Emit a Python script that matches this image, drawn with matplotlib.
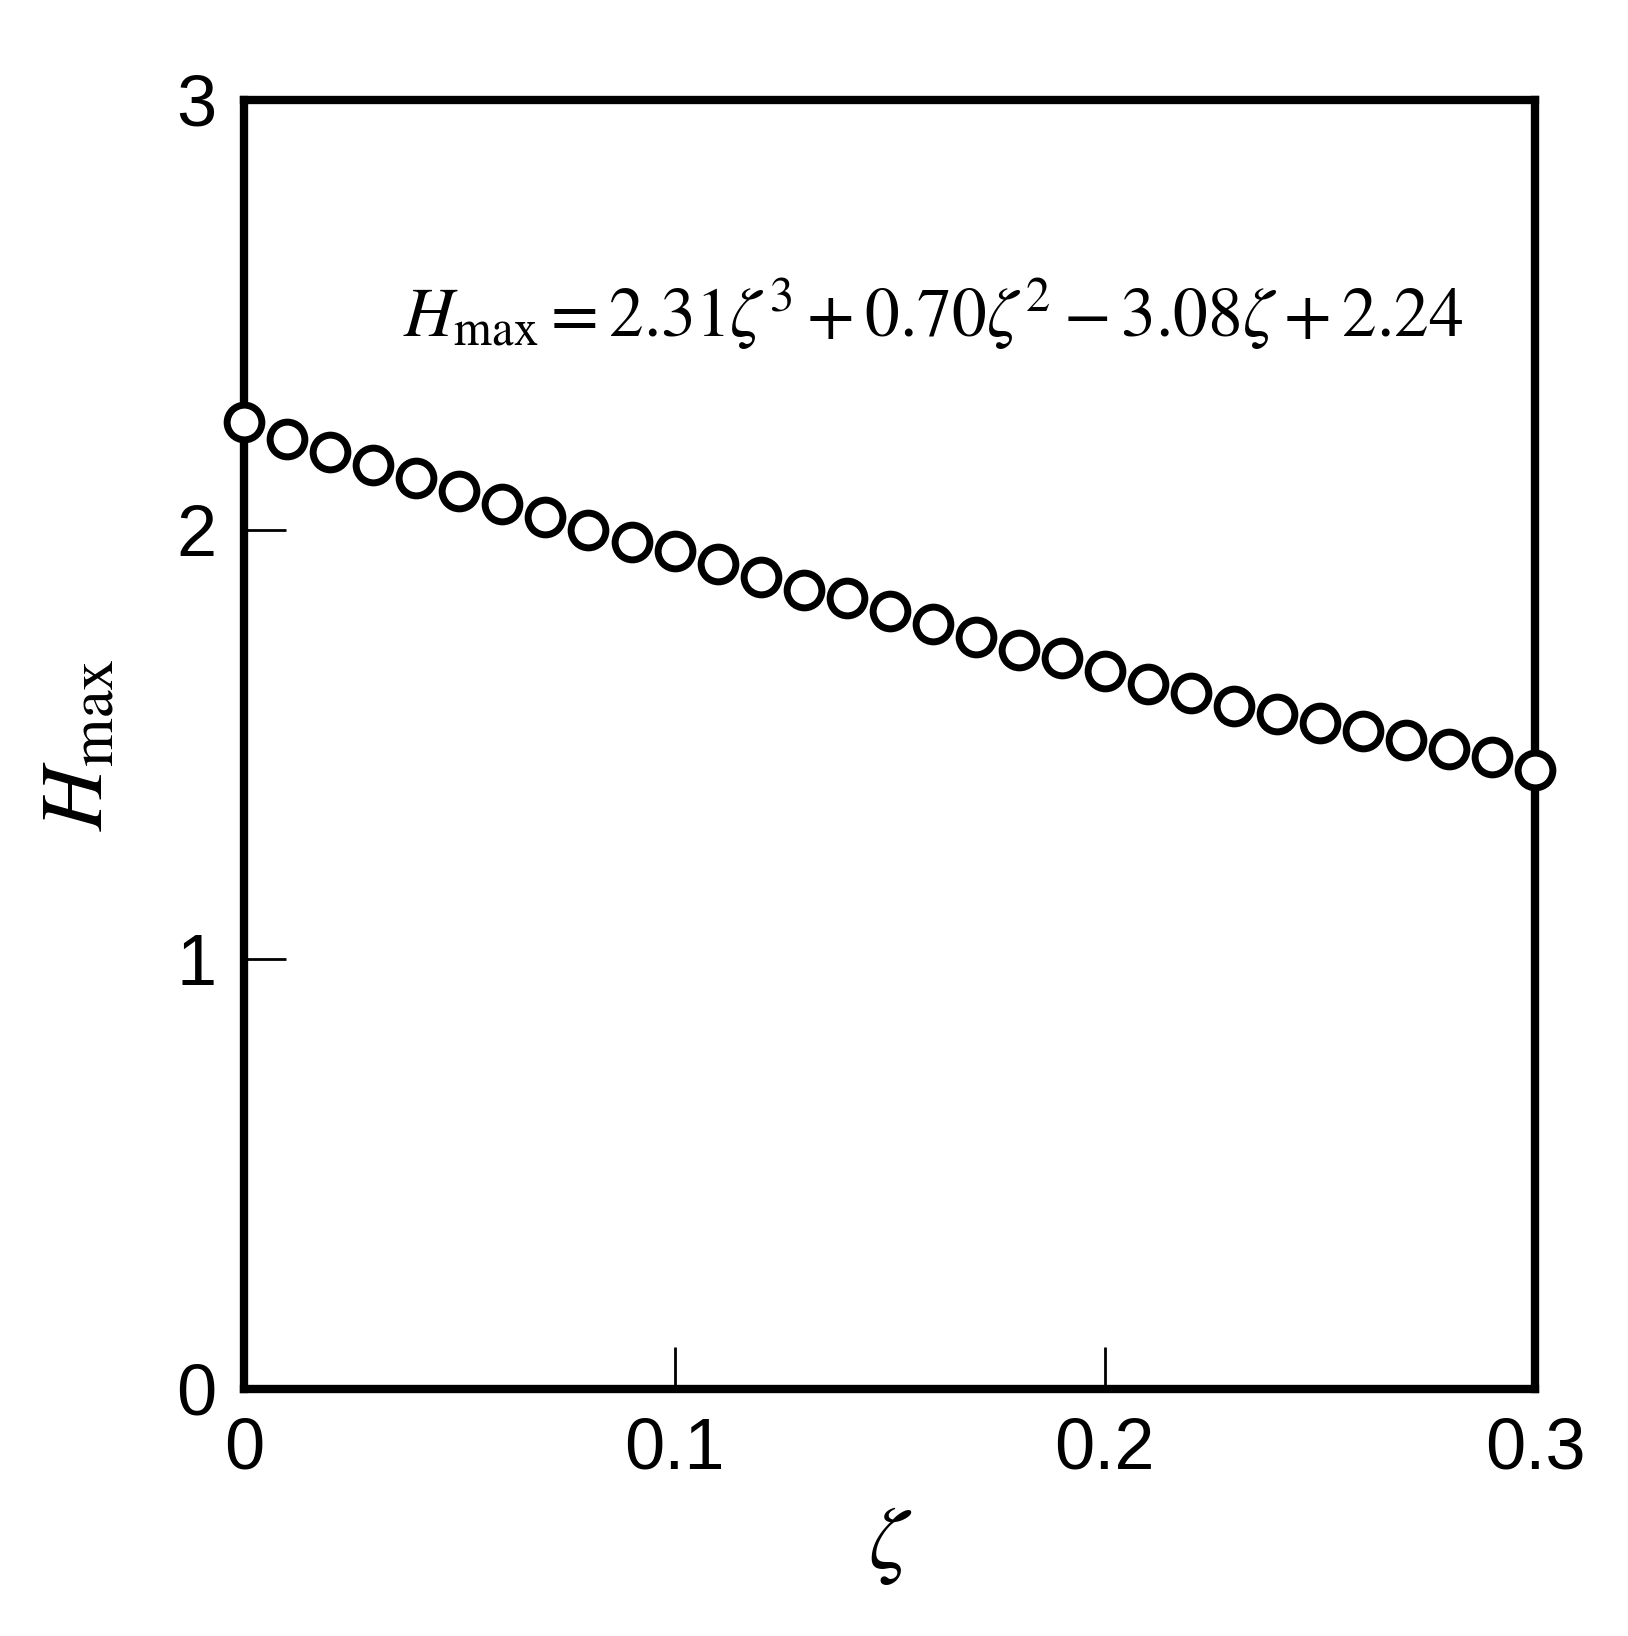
import matplotlib.pyplot as plt

plt.rcParams['mathtext.fontset'] = 'stix'
plt.rcParams['font.family'] = ['Liberation Sans', 'DejaVu Sans']

zeta = [i / 100 for i in range(31)]
hmax = [2.25, 2.21, 2.18, 2.15, 2.12, 2.09, 2.06, 2.03, 2.00, 1.97, 1.95,
        1.92, 1.89, 1.86, 1.84, 1.81, 1.78, 1.75, 1.72, 1.70, 1.67,
        1.64, 1.62, 1.59, 1.57, 1.55, 1.53, 1.51, 1.49, 1.47, 1.44]

fig = plt.figure(figsize=(16.28, 16.36), dpi=100)
ax = fig.add_axes([0.150, 0.151, 0.793, 0.788])
ax.plot(zeta, hmax, 'o', mfc='white', mec='black', ms=25, mew=5, clip_on=False, zorder=5)

ax.set_xlim(0, 0.3)
ax.set_ylim(0, 3)
ax.set_xticks([0, 0.1, 0.2, 0.3])
ax.set_xticklabels(['0', '0.1', '0.2', '0.3'])
ax.set_yticks([0, 1, 2, 3])
ax.set_yticklabels(['0', '1', '2', '3'])
for s in ax.spines.values():
    s.set_linewidth(6)
ax.tick_params(direction='in', length=30, width=2, labelsize=52, pad=20)

ax.set_xlabel(r'$\zeta$', fontsize=64, labelpad=14)
ax.set_ylabel(r'$H_{\mathrm{max}}$', fontsize=64, labelpad=40)
ax.text(0.16, 2.5, r'$H_{\mathrm{max}} = 2.31\zeta^3 + 0.70\zeta^2 - 3.08\zeta + 2.24$',
        fontsize=50, ha='center', va='center')

fig.savefig('out.png')
